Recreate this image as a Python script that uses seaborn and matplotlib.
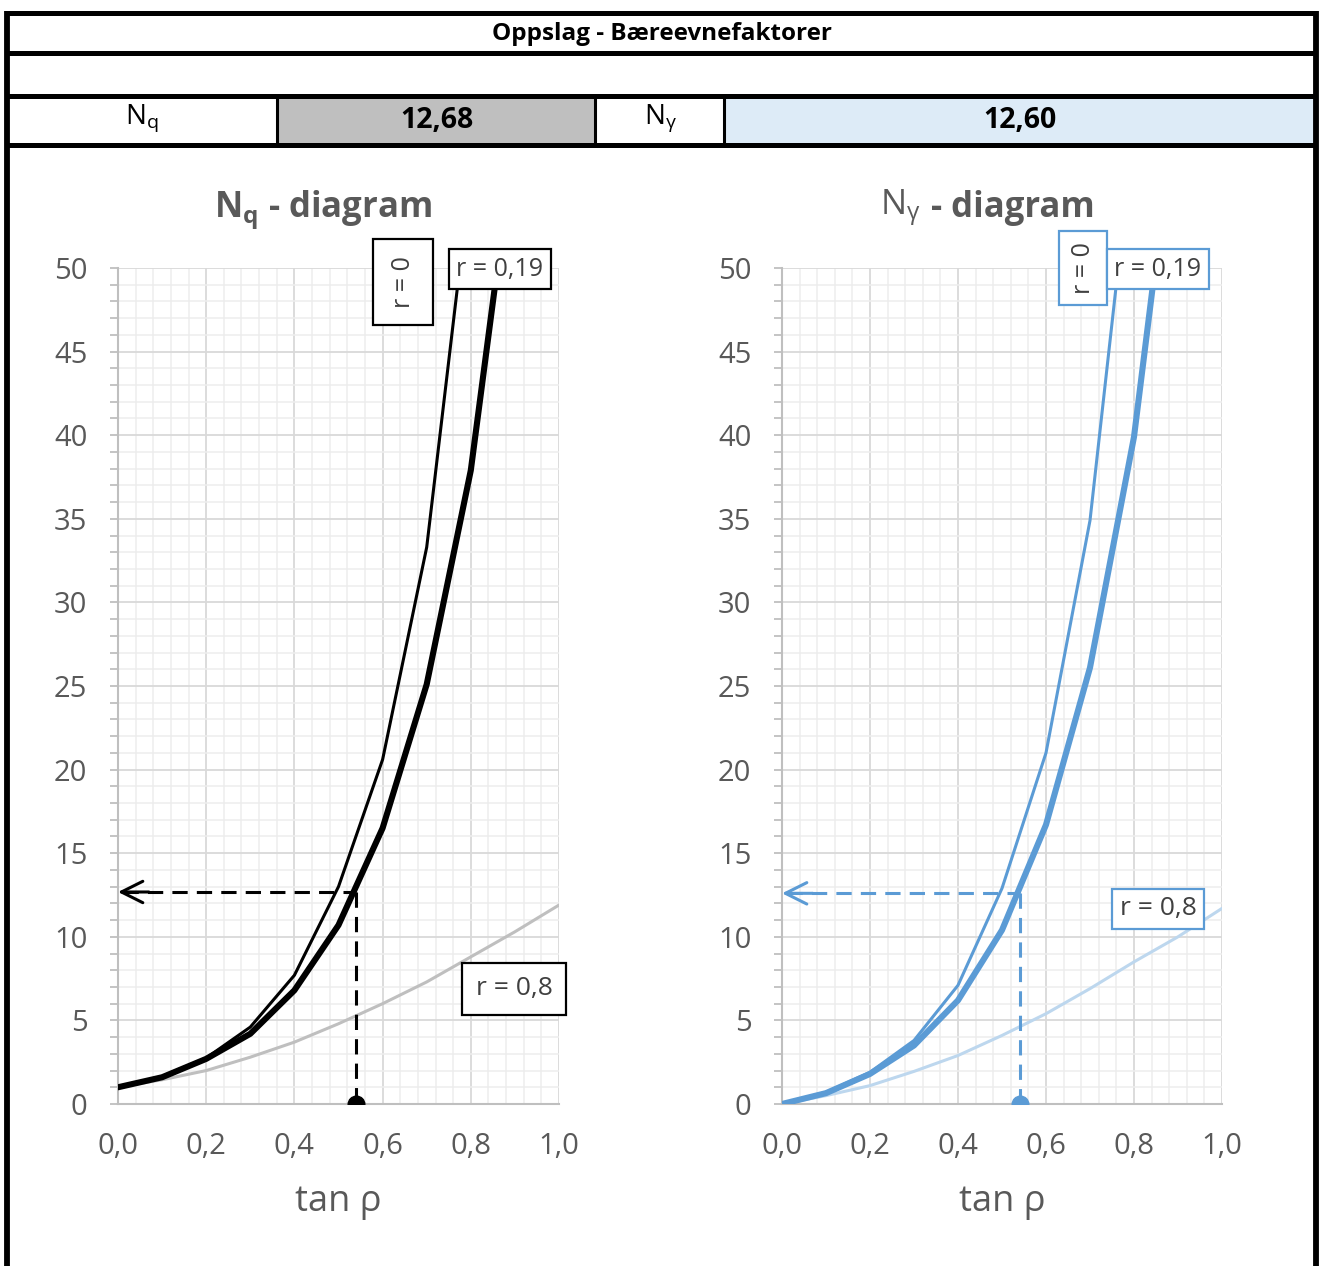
import numpy as np
import pandas as pd
import matplotlib
matplotlib.use("Agg")
import matplotlib.pyplot as plt
import seaborn as sns
from matplotlib.patches import Rectangle
from matplotlib.lines import Line2D
from matplotlib.ticker import MultipleLocator

# ---------------------------------------------------------------------------
# data
# ---------------------------------------------------------------------------
tan_rho = [0.0, 0.1, 0.2, 0.3, 0.4, 0.5, 0.6, 0.7, 0.8, 0.9, 1.0]

nq_r0    = [1.0, 1.65, 2.75, 4.6, 7.7, 13.0, 20.6, 33.3, 55.6, None, None]
nq_r019  = [1.0, 1.6, 2.7, 4.2, 6.8, 10.7, 16.5, 25.1, 37.9, 58.0, None]
nq_r08   = [1.0, 1.45, 2.0, 2.8, 3.7, 4.8, 6.0, 7.3, 8.8, 10.3, 11.9]

ng_r0    = [0.0, 0.7, 1.9, 3.8, 7.1, 12.9, 21.0, 34.9, 58.5, None, None]
ng_r019  = [0.0, 0.65, 1.8, 3.5, 6.2, 10.4, 16.7, 26.1, 39.9, 61.0, None]
ng_r08   = [0.0, 0.5, 1.1, 1.95, 2.9, 4.1, 5.4, 6.9, 8.5, 10.0, 11.7]

lookup_x  = 0.54
nq_value  = 12.68
ng_value  = 12.60

x_ticks   = [0.0, 0.2, 0.4, 0.6, 0.8, 1.0]
x_labels  = ["0,0", "0,2", "0,4", "0,6", "0,8", "1,0"]
y_ticks   = [0, 5, 10, 15, 20, 25, 30, 35, 40, 45, 50]

W, H = 1319, 1266
GREY_TXT = "#595959"
BLUE = "#5B9BD5"

sns.set_style("white")
plt.rcParams["font.family"] = ["Open Sans", "DejaVu Sans"]
plt.rcParams["mathtext.fontset"] = "custom"
plt.rcParams["mathtext.rm"] = "Open Sans"
plt.rcParams["mathtext.bf"] = "Open Sans:bold"
plt.rcParams["mathtext.it"] = "Open Sans"

fig = plt.figure(figsize=(W / 100, H / 100), dpi=100, facecolor="white")


def fx(px):
    return px / W


def fy(py):
    return 1 - py / H


# ---------------------------------------------------------------------------
# header table
# ---------------------------------------------------------------------------
fig.patches.append(Rectangle((fx(277), fy(145)), fx(595 - 277), 50 / H,
                             transform=fig.transFigure, facecolor="#BFBFBF", edgecolor="none"))
fig.patches.append(Rectangle((fx(724), fy(145)), fx(1315 - 724), 50 / H,
                             transform=fig.transFigure, facecolor="#DDEBF7", edgecolor="none"))

for yy in [13, 53, 96, 145]:
    fig.add_artist(Line2D([fx(5), fx(1317)], [fy(yy), fy(yy)], color="black", lw=3.6,
                          transform=fig.transFigure, solid_capstyle="butt"))
for xx in [7, 1316]:
    fig.add_artist(Line2D([fx(xx), fx(xx)], [fy(11), fy(1266)], color="black", lw=4.2,
                          transform=fig.transFigure, solid_capstyle="butt"))
for xx in [277, 595, 724]:
    fig.add_artist(Line2D([fx(xx), fx(xx)], [fy(96), fy(145)], color="black", lw=2.2,
                          transform=fig.transFigure, solid_capstyle="butt"))

fig.text(fx(662), fy(34), "Oppslag - Bæreevnefaktorer", ha="center", va="center",
         fontsize=17.5, fontweight="bold", color="black")
fig.text(fx(142), fy(118), r"$\mathrm{N_q}$", ha="center", va="center", fontsize=20, color="black")
fig.text(fx(437), fy(120), f"{nq_value:.2f}".replace(".", ","), ha="center", va="center",
         fontsize=20.5, fontweight="bold", color="black")
fig.text(fx(660), fy(118), r"$\mathrm{N_\gamma}$", ha="center", va="center", fontsize=20, color="black")
fig.text(fx(1020), fy(120), f"{ng_value:.2f}".replace(".", ","), ha="center", va="center",
         fontsize=20.5, fontweight="bold", color="black")


# ---------------------------------------------------------------------------
# diagrams
# ---------------------------------------------------------------------------
def setup_axis(ax):
    ax.set_xlim(0, 1.0)
    ax.set_ylim(0, 50)
    ax.xaxis.set_major_locator(MultipleLocator(0.2))
    ax.xaxis.set_minor_locator(MultipleLocator(0.04))
    ax.yaxis.set_major_locator(MultipleLocator(5))
    ax.yaxis.set_minor_locator(MultipleLocator(1))
    ax.grid(which="major", color="#D9D9D9", lw=1.3)
    ax.grid(which="minor", color="#EDEDED", lw=1.1)
    ax.set_axisbelow(True)
    for s in ["top", "right"]:
        ax.spines[s].set_visible(False)
    for s in ["left", "bottom"]:
        ax.spines[s].set_color("#BFBFBF")
        ax.spines[s].set_linewidth(1.5)
    ax.set_xticks(x_ticks)
    ax.set_xticklabels(x_labels)
    ax.set_yticks(y_ticks)
    ax.tick_params(axis="x", which="both", length=0, pad=20, labelsize=21, labelcolor=GREY_TXT)
    ax.tick_params(axis="y", which="major", length=6, width=1.3, color="#BFBFBF", pad=16,
                   labelsize=21, labelcolor=GREY_TXT, left=True)
    ax.tick_params(axis="y", which="minor", length=6, width=1.3, color="#BFBFBF", left=True)
    ax.set_xlabel("tan ρ", fontsize=26, color=GREY_TXT, labelpad=17)
    ax.set_ylabel("")


def label_box(ax, x, y, text, edge, rotation=0, fs=18, pad=0.3):
    ax.text(x, y, text, transform=fig.transFigure, ha="center", va="center", fontsize=fs,
            color="#404040", rotation=rotation, zorder=10,
            bbox=dict(boxstyle=f"square,pad={pad}", facecolor="white", edgecolor=edge, lw=1.6))


def draw_diagram(ax, r0, r019, r08, value, main_col, light_col):
    df = pd.DataFrame({"x": tan_rho, "r0": r0, "r019": r019, "r08": r08})
    sns.lineplot(data=df, x="x", y="r08", ax=ax, color=light_col, lw=2.2, zorder=3)
    sns.lineplot(data=df.dropna(subset=["r0"]), x="x", y="r0", ax=ax, color=main_col, lw=2.2, zorder=4)
    sns.lineplot(data=df.dropna(subset=["r019"]), x="x", y="r019", ax=ax, color=main_col, lw=4.4, zorder=5)
    # lookup lines
    ax.plot([0.012, lookup_x], [value, value], ls=(0, (5, 3)), color=main_col, lw=2.2, zorder=6)
    ax.plot([lookup_x, lookup_x], [value, 0], ls=(0, (5, 3)), color=main_col, lw=2.2, zorder=6)
    ax.annotate("", xy=(0.0, value), xytext=(0.07, value),
                arrowprops=dict(arrowstyle="->,head_length=0.7,head_width=0.35", color=main_col,
                                lw=2.2, shrinkA=0, shrinkB=0, mutation_scale=22), zorder=7)
    ax.plot([lookup_x], [0], marker="o", ms=12, color=main_col, clip_on=True, zorder=7)
    setup_axis(ax)


ax1 = fig.add_axes([fx(118), fy(1104), fx(559 - 118), (1104 - 268) / H])
ax2 = fig.add_axes([fx(782), fy(1104), fx(1222 - 782), (1104 - 268) / H])

draw_diagram(ax1, nq_r0, nq_r019, nq_r08, nq_value, "black", "#BFBFBF")
draw_diagram(ax2, ng_r0, ng_r019, ng_r08, ng_value, BLUE, "#BDD7EE")

fig.text(fx(323), fy(210), r"$\mathbf{N_q}$ - diagram", ha="center", va="center",
         fontsize=25, fontweight="bold", color=GREY_TXT)
fig.text(fx(921), fy(208), r"$\mathrm{N_\gamma}$", ha="right", va="center",
         fontsize=25, color=GREY_TXT)
fig.text(fx(931), fy(208), "- diagram", ha="left", va="center",
         fontsize=25, fontweight="bold", color=GREY_TXT)

# line labels
label_box(ax1, fx(403), fy(282), "r = 0", "black", rotation=90, pad=0.7)
label_box(ax1, fx(500), fy(269), "r = 0,19", "black")
label_box(ax1, fx(514), fy(989), "r = 0,8", "black", fs=19, pad=0.5)
label_box(ax2, fx(1083), fy(268), "r = 0", BLUE, rotation=90, pad=0.45)
label_box(ax2, fx(1158), fy(269), "r = 0,19", BLUE)
label_box(ax2, fx(1158), fy(909), "r = 0,8", BLUE, fs=19, pad=0.3)

fig.savefig("out.png", dpi=100, facecolor="white")
